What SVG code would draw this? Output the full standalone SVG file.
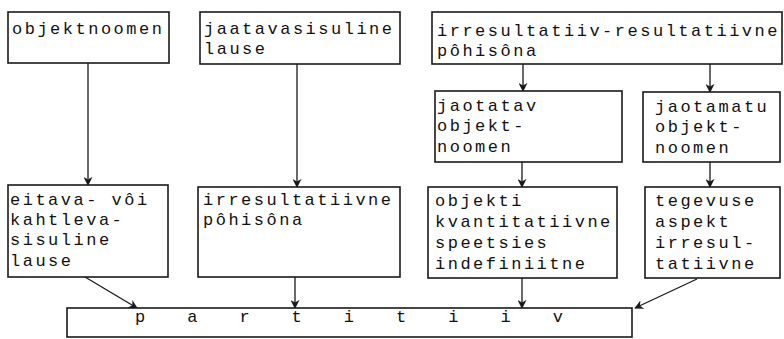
<svg xmlns="http://www.w3.org/2000/svg" width="784" height="339" viewBox="0 0 784 339">
<defs>
<style>
.box{fill:#fff;stroke:#1a1a1a;stroke-width:1.6}
.t{font-family:"Liberation Mono","DejaVu Sans Mono",monospace;font-size:17px;letter-spacing:2.5px;fill:#111}
.c{stroke:#1a1a1a;stroke-width:1.3;fill:none;marker-end:url(#ah)}
</style>
<marker id="ah" viewBox="0 0 10 10" refX="9" refY="5" markerWidth="9" markerHeight="9" markerUnits="userSpaceOnUse" orient="auto">
<path d="M0,0 L10,5 L0,10 L3,5 Z" fill="#1a1a1a"/>
</marker>
</defs>
<rect width="784" height="339" fill="#fff"/>
<g id="connectors">
<line class="c" x1="88" y1="63" x2="88" y2="185"/>
<line class="c" x1="297" y1="64" x2="297" y2="187"/>
<line class="c" x1="523" y1="64" x2="523" y2="91"/>
<line class="c" x1="710" y1="64" x2="710" y2="92"/>
<line class="c" x1="522" y1="162" x2="522" y2="187"/>
<line class="c" x1="710" y1="162" x2="710" y2="187"/>
<line class="c" x1="85" y1="277" x2="137" y2="308"/>
<line class="c" x1="295" y1="277" x2="295" y2="308"/>
<line class="c" x1="522" y1="278" x2="522" y2="308"/>
<line class="c" x1="697" y1="279" x2="635" y2="308"/>
</g>
<g id="n1"><rect class="box" x="8" y="12" width="161" height="51"/><text class="t" x="12" y="34">objektnoomen</text></g>
<g id="n2"><rect class="box" x="200" y="12" width="200" height="52"/><text class="t" x="204" y="34">jaatavasisuline</text><text class="t" x="204" y="54">lause</text></g>
<g id="n3"><rect class="box" x="432" y="12" width="350" height="52"/><text class="t" x="437" y="36">irresultatiiv-resultatiivne</text><text class="t" x="437" y="56">pôhisôna</text></g>
<g id="n4"><rect class="box" x="435" y="91" width="187" height="71"/><text class="t" x="437" y="111">jaotatav</text><text class="t" x="437" y="131">objekt-</text><text class="t" x="437" y="152">noomen</text></g>
<g id="n5"><rect class="box" x="643" y="92" width="137" height="70"/><text class="t" x="655" y="112">jaotamatu</text><text class="t" x="655" y="132">objekt-</text><text class="t" x="655" y="153">noomen</text></g>
<g id="n6"><rect class="box" x="8" y="185" width="160" height="92"/><text class="t" x="10" y="205">eitava- vôi</text><text class="t" x="10" y="225">kahtleva-</text><text class="t" x="10" y="245">sisuline</text><text class="t" x="10" y="266">lause</text></g>
<g id="n7"><rect class="box" x="198" y="187" width="202" height="90"/><text class="t" x="203" y="205">irresultatiivne</text><text class="t" x="203" y="225">pôhisôna</text></g>
<g id="n8"><rect class="box" x="428" y="187" width="189" height="91"/><text class="t" x="435" y="206">objekti</text><text class="t" x="435" y="227">kvantitatiivne</text><text class="t" x="435" y="248">speetsies</text><text class="t" x="435" y="269">indefiniitne</text></g>
<g id="n9"><rect class="box" x="645" y="187" width="135" height="91"/><text class="t" x="655" y="206">tegevuse</text><text class="t" x="655" y="227">aspekt</text><text class="t" x="655" y="248">irresul-</text><text class="t" x="655" y="269">tatiivne</text></g>
<g id="n10"><rect class="box" x="67" y="308" width="565" height="29"/><text class="t" x="135" y="322" style="letter-spacing:15.9px">p a r t i t i i v</text></g>
</svg>
